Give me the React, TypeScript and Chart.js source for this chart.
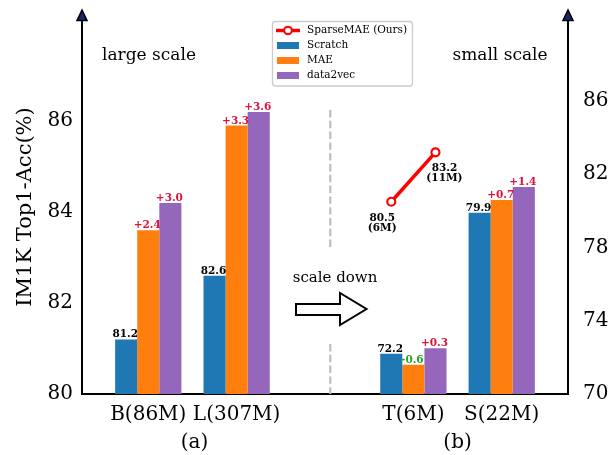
import { useEffect, useRef } from 'react';
import { Chart, registerables } from 'chart.js';

Chart.register(...registerables);

// ---- data ----
const categories = ['B(86M)', 'L(307M)', '', 'T(6M)', 'S(22M)'];
const scratch: (number | null)[] = [81.2, 82.6, null, 72.2, 79.9];
const mae: (number | null)[] = [83.6, 85.9, null, 71.6, 80.6];
const data2vec: (number | null)[] = [84.2, 86.2, null, 72.5, 81.3];
const sparseMAE = [80.5, 83.2];
const sparseParams = ['6M', '11M'];
const leftTicks = [80, 82, 84, 86];
const rightTicks = [70, 74, 78, 82, 86];
const panelNames = ['(a)', '(b)'];
const scaleNames = ['large scale', 'small scale'];
const seriesNames = ['SparseMAE (Ours)', 'Scratch', 'MAE', 'data2vec'];

const COLORS: Record<string, string> = {
  scratch: '#1f77b4',
  mae: '#ff7f0e',
  data2vec: '#9467bd',
  sparse: '#ff0000',
};
const FONT = "'DejaVu Serif', serif";
const gapIndex = categories.indexOf('');
const tIndex = categories.indexOf('T(6M)');

function barData(values: (number | null)[], side: 'left' | 'right') {
  return categories.map((_, i) => ({
    x: i,
    y: (side === 'left' ? i < gapIndex : i > gapIndex) ? values[i] : null,
  }));
}

const seriesValues: Record<string, (number | null)[]> = { scratch, mae, data2vec };

const valueLabelPlugin = {
  id: 'valueLabels',
  afterDatasetsDraw(chart: any) {
    const ctx = chart.ctx;
    ctx.save();
    chart.data.datasets.forEach((ds: any, di: number) => {
      const meta = chart.getDatasetMeta(di);
      if (ds.type === 'line') {
        ctx.font = `bold 10.5px ${FONT}`;
        ctx.fillStyle = '#000';
        ctx.textAlign = 'center';
        ctx.textBaseline = 'alphabetic';
        meta.data.forEach((el: any, i: number) => {
          const dx = i === 0 ? -9 : 9;
          ctx.fillText(sparseMAE[i].toFixed(1), el.x + dx, el.y + 19);
          ctx.fillText(`(${sparseParams[i]})`, el.x + dx, el.y + 29);
        });
        return;
      }
      meta.data.forEach((el: any, i: number) => {
        const pt = ds.data[i];
        if (pt.y == null) return;
        let text: string;
        let color = '#000';
        if (ds.series === 'scratch') {
          text = pt.y.toFixed(1);
        } else {
          const diff = pt.y - (scratch[pt.x] as number);
          text = (diff >= 0 ? '+' : '') + diff.toFixed(1);
          color = diff >= 0 ? '#dc143c' : '#2ca02c';
        }
        ctx.font = `bold 10.5px ${FONT}`;
        ctx.fillStyle = color;
        ctx.textAlign = 'center';
        ctx.textBaseline = 'alphabetic';
        ctx.fillText(text, el.x - 1, el.y - 2);
      });
    });
    ctx.restore();
  },
};

const decorPlugin = {
  id: 'decor',
  beforeDatasetsDraw(chart: any) {
    const ctx = chart.ctx;
    const xs = chart.scales.x;
    const area = chart.chartArea;
    const dx = xs.getPixelForValue(gapIndex + 0.06);
    ctx.save();
    ctx.strokeStyle = '#bdbdbd';
    ctx.lineWidth = 2.2;
    ctx.setLineDash([7.4, 3.4]);
    ctx.beginPath();
    ctx.moveTo(dx, area.top + 90);
    ctx.lineTo(dx, 247);
    ctx.moveTo(dx, 344);
    ctx.lineTo(dx, area.bottom);
    ctx.stroke();
    ctx.restore();
  },
  afterDraw(chart: any) {
    const ctx = chart.ctx;
    const xs = chart.scales.x;
    const area = chart.chartArea;
    ctx.save();
    // axis arrows
    [area.left, area.right].forEach((x: number) => {
      ctx.beginPath();
      ctx.moveTo(x, area.top - 10);
      ctx.lineTo(x - 5, area.top + 0.5);
      ctx.lineTo(x + 5, area.top + 0.5);
      ctx.closePath();
      ctx.fillStyle = '#1c2470';
      ctx.fill();
      ctx.strokeStyle = '#000';
      ctx.lineWidth = 1.5;
      ctx.stroke();
    });
    // scale names
    ctx.fillStyle = '#000';
    ctx.textAlign = 'center';
    ctx.textBaseline = 'middle';
    ctx.font = `17px ${FONT}`;
    ctx.fillText(scaleNames[0], 149, 56);
    ctx.fillText(scaleNames[1], 500, 56);
    // panel names
    ctx.font = `20px ${FONT}`;
    ctx.fillText(panelNames[0], xs.getPixelForValue(0.5) + 2, 443);
    ctx.fillText(panelNames[1], xs.getPixelForValue(3.5), 443);
    // scale down annotation
    ctx.font = `15px ${FONT}`;
    ctx.fillText('scale down', 335, 278);
    ctx.beginPath();
    ctx.moveTo(296, 304);
    ctx.lineTo(340, 304);
    ctx.lineTo(340, 293);
    ctx.lineTo(366.5, 309);
    ctx.lineTo(340, 325);
    ctx.lineTo(340, 315);
    ctx.lineTo(296, 315);
    ctx.closePath();
    ctx.fillStyle = '#fff';
    ctx.fill();
    ctx.strokeStyle = '#000';
    ctx.lineWidth = 2;
    ctx.lineJoin = 'miter';
    ctx.stroke();

    // legend
    const lx = 272.5, ly = 21.5, lw = 140, lh = 64.5;
    ctx.beginPath();
    ctx.roundRect(lx, ly, lw, lh, 3);
    ctx.fillStyle = 'rgba(255,255,255,0.85)';
    ctx.fill();
    ctx.strokeStyle = '#cccccc';
    ctx.lineWidth = 1.3;
    ctx.stroke();
    const seen: string[] = [];
    const items: any[] = [];
    chart.data.datasets.forEach((ds: any) => {
      if (seen.indexOf(ds.label) === -1) {
        seen.push(ds.label);
        items.push(ds);
      }
    });
    items.forEach((ds: any, i: number) => {
      const y = 30.5 + i * 15;
      if (ds.type === 'line') {
        ctx.beginPath();
        ctx.moveTo(276, y);
        ctx.lineTo(300, y);
        ctx.strokeStyle = ds.borderColor;
        ctx.lineWidth = 3.5;
        ctx.stroke();
        ctx.beginPath();
        ctx.arc(288, y, 3.8, 0, Math.PI * 2);
        ctx.fillStyle = '#fff';
        ctx.fill();
        ctx.lineWidth = 2;
        ctx.stroke();
      } else {
        ctx.fillStyle = ds.backgroundColor;
        ctx.fillRect(277, y - 3.5, 22, 7);
      }
      ctx.fillStyle = '#000';
      ctx.font = `10.5px ${FONT}`;
      ctx.textAlign = 'left';
      ctx.textBaseline = 'middle';
      ctx.fillText(ds.label, 307, y);
    });
    ctx.restore();
  },
};

function zeroPad(s: any) {
  s.paddingTop = 0;
  s.paddingBottom = 0;
  s.paddingLeft = 0;
  s.paddingRight = 0;
}

export default function App() {
  const ref = useRef<HTMLCanvasElement | null>(null);
  useEffect(() => {
    if (!ref.current) return;
    Chart.defaults.font.family = FONT;
    Chart.defaults.color = '#000';
    const barSets: any[] = [];
    (['left', 'right'] as const).forEach((side) => {
      (['scratch', 'mae', 'data2vec'] as const).forEach((s, k) => {
        barSets.push({
          type: 'bar',
          label: seriesNames[k + 1],
          series: s,
          data: barData(seriesValues[s], side),
          backgroundColor: COLORS[s],
          borderWidth: 0,
          yAxisID: side === 'left' ? 'y' : 'y2',
          categoryPercentage: 0.75,
          barPercentage: 1,
          skipNull: true,
        });
      });
    });
    const chart = new Chart(ref.current, {
      type: 'bar',
      data: {
        datasets: [
          {
            type: 'line',
            label: seriesNames[0],
            data: sparseMAE.map((v, i) => ({ x: tIndex + (i === 0 ? -0.25 : 0.25), y: v })),
            borderColor: COLORS.sparse,
            borderWidth: 3.5,
            pointRadius: 4,
            pointBorderWidth: 2.2,
            pointBackgroundColor: '#fff',
            pointBorderColor: COLORS.sparse,
            yAxisID: 'y2',
          } as any,
          ...barSets,
        ],
      },
      options: {
        responsive: false,
        animation: false,
        devicePixelRatio: 1,
        layout: { padding: { top: 20, left: 0, right: 0, bottom: 0 } },
        plugins: { legend: { display: false }, tooltip: { enabled: false } },
        scales: {
          x: {
            type: 'linear',
            offset: false,
            min: -0.75,
            max: 4.75,
            grid: { display: false, drawTicks: false, offset: false },
            border: { display: true, color: '#000', width: 2 },
            afterBuildTicks: (s: any) => {
              s.ticks = categories
                .map((c, i) => ({ value: i, label: c }))
                .filter((t) => t.label !== '');
            },
            afterFit: (s: any) => {
              s.height = 61;
              zeroPad(s);
            },
            ticks: {
              autoSkip: false,
              maxRotation: 0,
              padding: 9,
              color: '#000',
              font: { size: 20, family: FONT },
              callback: (v: any) => categories[v] ?? '',
            },
          },
          y: {
            type: 'linear',
            position: 'left',
            min: 80,
            max: 80 + 374 / 45.5,
            grid: { display: false, drawTicks: false },
            border: { display: true, color: '#000', width: 2 },
            afterBuildTicks: (s: any) => {
              s.ticks = leftTicks.map((v) => ({ value: v }));
            },
            afterFit: (s: any) => {
              s.width = 82;
              zeroPad(s);
            },
            ticks: {
              padding: 9,
              color: '#000',
              font: { size: 20, family: FONT },
              callback: (v: any) => String(v),
            },
            title: {
              display: true,
              text: 'IM1K Top1-Acc(%)',
              color: '#000',
              font: { size: 21, family: FONT },
              padding: { top: 13, bottom: 0 },
            },
          },
          y2: {
            type: 'linear',
            position: 'right',
            min: 70,
            max: 70 + 374 / 18.31,
            grid: { display: false, drawTicks: false },
            border: { display: true, color: '#000', width: 2 },
            afterBuildTicks: (s: any) => {
              s.ticks = rightTicks.map((v) => ({ value: v }));
            },
            afterFit: (s: any) => {
              s.width = 45;
              zeroPad(s);
            },
            ticks: {
              padding: 15,
              color: '#000',
              font: { size: 20, family: FONT },
              callback: (v: any) => String(v),
            },
          },
        },
      } as any,
      plugins: [decorPlugin, valueLabelPlugin],
    });
    return () => chart.destroy();
  }, []);
  return (
    <div style={{ position: 'fixed', left: 0, top: 0, width: 613, height: 455, background: '#fff' }}>
      <canvas ref={ref} width={613} height={455} style={{ display: 'block' }} />
    </div>
  );
}
